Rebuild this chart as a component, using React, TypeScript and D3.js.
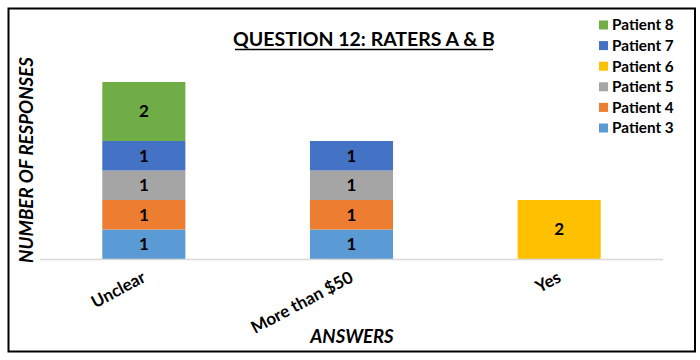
import React from "react";
import * as d3 from "d3";

const categories = ["Unclear", "More than $50", "Yes"];
const seriesNames = ["Patient 3", "Patient 4", "Patient 5", "Patient 6", "Patient 7", "Patient 8"];
const patient3 = [1, 1, 0];
const patient4 = [1, 1, 0];
const patient5 = [1, 1, 0];
const patient6 = [0, 0, 2];
const patient7 = [1, 1, 0];
const patient8 = [2, 0, 0];
const seriesColors = ["#5B9BD5", "#ED7D31", "#A5A5A5", "#FFC000", "#4472C4", "#70AD47"];

const W = 700;
const H = 360;
const FONT = "Lato, 'Open Sans', sans-serif";

export default function App() {
  const values = [patient3, patient4, patient5, patient6, patient7, patient8];
  const rows = categories.map((c, i) => {
    const r: any = { cat: c };
    seriesNames.forEach((s, j) => (r[s] = values[j][i]));
    return r;
  });
  const stack = d3.stack<any>().keys(seriesNames)(rows);

  const x = d3.scaleBand().domain(categories).range([40, 663]).paddingInner(0.6).paddingOuter(0.3);
  const y = d3.scaleLinear().domain([0, 7]).range([259, 259 - 7 * 29.5]);

  const legendOrder = [...seriesNames].reverse();

  return (
    <svg width={W} height={H} style={{ position: "absolute", left: 0, top: 0, background: "#fff" }}>
      <rect x={0} y={0} width={W} height={H} fill="#fff" />
      <rect x={8.5} y={8.5} width={686.5} height={343} fill="none" stroke="#000" strokeWidth={2} />
      <text x={364} y={46} textAnchor="middle" fontFamily={FONT} fontWeight="bold" fontSize={19.5} fill="#000">
        QUESTION 12: RATERS A &amp; B
      </text>
      <line x1={235} x2={493} y1={49.5} y2={49.5} stroke="#000" strokeWidth={1.5} />
      {stack.map((s, j) =>
        s.map((d, i) => {
          if (d[1] - d[0] <= 0) return null;
          const bx = x(categories[i])!;
          const y0 = y(d[0]);
          const y1 = y(d[1]);
          return (
            <g key={`${j}-${i}`}>
              <rect x={bx} y={y1} width={x.bandwidth()} height={y0 - y1} fill={seriesColors[j]} />
              <text
                x={bx + x.bandwidth() / 2}
                y={(y0 + y1) / 2}
                dy="0.35em"
                textAnchor="middle"
                fontFamily={FONT}
                fontWeight="bold"
                fontSize={17}
                fill="#000"
              >
                {d[1] - d[0]}
              </text>
            </g>
          );
        })
      )}
      <line x1={40} x2={663} y1={259.5} y2={259.5} stroke="#d9d9d9" strokeWidth={1.5} />
      {categories.map((c) => {
        const cx = x(c)! + x.bandwidth() / 2 + 3;
        return (
          <text
            key={c}
            transform={`translate(${cx},${281}) rotate(-28)`}
            textAnchor="end"
            fontFamily={FONT}
            fontWeight="bold"
            fontSize={17}
            fill="#000"
          >
            {c}
          </text>
        );
      })}
      <text x={352} y={343} textAnchor="middle" fontFamily={FONT} fontWeight="bold" fontStyle="italic" fontSize={18.5} fill="#000">
        ANSWERS
      </text>
      <text
        transform={`translate(33,160) rotate(-90)`}
        textAnchor="middle"
        fontFamily={FONT}
        fontWeight="bold"
        fontStyle="italic"
        fontSize={18.7}
        fill="#000"
      >
        NUMBER OF RESPONSES
      </text>
      {legendOrder.map((s, k) => {
        const cy = 25 + k * 20.6;
        const color = seriesColors[seriesNames.indexOf(s)];
        return (
          <g key={s}>
            <rect x={599} y={cy - 4.5} width={9} height={9} fill={color} />
            <text x={612} y={cy} dy="0.35em" fontFamily={FONT} fontWeight="bold" fontSize={15.3} fill="#000">
              {s}
            </text>
          </g>
        );
      })}
    </svg>
  );
}
